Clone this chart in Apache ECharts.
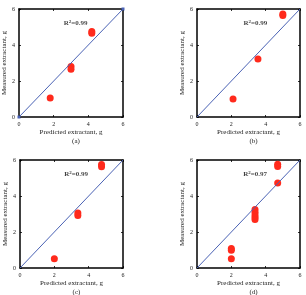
<!DOCTYPE html>
<html>
<head>
<meta charset="utf-8">
<script src="https://cdn.jsdelivr.net/npm/echarts@6/dist/echarts.min.js"></script>
<style>
  html, body { margin: 0; padding: 0; background: #fff; }
  #chart { width: 306px; height: 295px; }
</style>
</head>
<body>
<div id="chart"></div>
<script>
// values, one pair of arrays per panel
const predA = [1.8, 3.0, 3.0, 4.2, 4.2]
const measA = [1.05, 2.8, 2.65, 4.75, 4.65]
const predB = [2.1, 3.55, 5.0, 5.0]
const measB = [1.0, 3.22, 5.72, 5.64]
const predC = [2.0, 3.37, 3.37, 4.75, 4.75]
const measC = [0.52, 3.05, 2.92, 5.75, 5.62]
const predD = [2.0, 2.0, 2.0, 3.38, 3.38, 3.38, 3.38, 3.38, 4.7, 4.7, 4.7]
const measD = [1.08, 0.98, 0.52, 3.25, 3.1, 2.95, 2.82, 2.7, 5.76, 5.64, 4.72]
const lineX = [0, 6]
const lineY = [0, 6]
const r2Labels = ['0.99', '0.99', '0.99', '0.97']
const panelNames = ['(a)', '(b)', '(c)', '(d)']
const tickMin = 0
const tickMax = 6
const tickStep = 2

const font = 'Liberation Serif'
const panels = [
  { px: predA, my: measA, box: { left: 19, top: 9, width: 104, height: 108 }, r2: [3.27, 5.2], ends: true },
  { px: predB, my: measB, box: { left: 197, top: 9, width: 103, height: 108 }, r2: [3.4, 5.2] },
  { px: predC, my: measC, box: { left: 20, top: 160, width: 103, height: 108 }, r2: [3.27, 5.2] },
  { px: predD, my: measD, box: { left: 197, top: 160, width: 103, height: 108 }, r2: [3.39, 5.2] }
]

const grid = []
const xAxis = []
const yAxis = []
const series = []
const title = []

function axisBase(i) {
  return {
    gridIndex: i,
    type: 'value',
    min: tickMin,
    max: tickMax,
    interval: tickStep,
    splitLine: { show: false },
    axisLine: { show: true, onZero: false, lineStyle: { color: '#000', width: 1.5 } },
    axisTick: { inside: true, length: 2, lineStyle: { color: '#000', width: 0.8 } }
  }
}

panels.forEach((p, i) => {
  grid.push(Object.assign({ show: false }, p.box))
  const label = { fontFamily: font, fontSize: 6, color: '#222', margin: 4 }
  xAxis.push(Object.assign(axisBase(i), {
    position: 'bottom',
    axisLabel: label,
    name: 'Predicted extractant, g',
    nameLocation: 'middle',
    nameGap: 12,
    nameTextStyle: { fontFamily: font, fontSize: 7, color: '#222' }
  }))
  xAxis.push(Object.assign(axisBase(i), { position: 'top', axisLabel: { show: false } }))
  yAxis.push(Object.assign(axisBase(i), {
    position: 'left',
    axisLabel: label,
    name: 'Measured extractant, g',
    nameLocation: 'middle',
    nameGap: 10,
    nameTextStyle: { fontFamily: font, fontSize: 7, color: '#222' }
  }))
  yAxis.push(Object.assign(axisBase(i), { position: 'right', axisLabel: { show: false } }))

  series.push({
    type: 'line',
    xAxisIndex: i * 2,
    yAxisIndex: i * 2,
    data: lineX.map((x, k) => [x, lineY[k]]),
    symbol: p.ends ? 'rect' : 'none',
    symbolSize: 3,
    itemStyle: { color: '#4a62b4' },
    lineStyle: { color: '#4a62b4', width: 1 },
    silent: true
  })
  series.push({
    type: 'scatter',
    xAxisIndex: i * 2,
    yAxisIndex: i * 2,
    data: p.px.map((x, k) => [x, p.my[k]]),
    symbolSize: 7,
    itemStyle: { color: '#ff2a1c', opacity: 1 }
  })
  series.push({
    type: 'scatter',
    xAxisIndex: i * 2,
    yAxisIndex: i * 2,
    data: [p.r2],
    symbolSize: 0,
    silent: true,
    label: {
      show: true,
      position: 'inside',
      formatter: 'R{s|2}=' + r2Labels[i],
      fontFamily: font,
      fontSize: 7,
      fontWeight: 'bold',
      color: '#111',
      rich: { s: { fontSize: 5, fontWeight: 'bold', fontFamily: font, verticalAlign: 'top', padding: [0, 0, 3, 0] } }
    }
  })

  title.push({
    text: panelNames[i],
    left: p.box.left + p.box.width / 2,
    top: p.box.top + p.box.height + 16,
    textAlign: 'center',
    textStyle: { fontFamily: font, fontSize: 7, fontWeight: 'normal', color: '#222' }
  })
})

const chart = echarts.init(document.getElementById('chart'))
chart.setOption({
  animation: false,
  title: title,
  grid: grid,
  xAxis: xAxis,
  yAxis: yAxis,
  series: series
})
</script>
</body>
</html>
